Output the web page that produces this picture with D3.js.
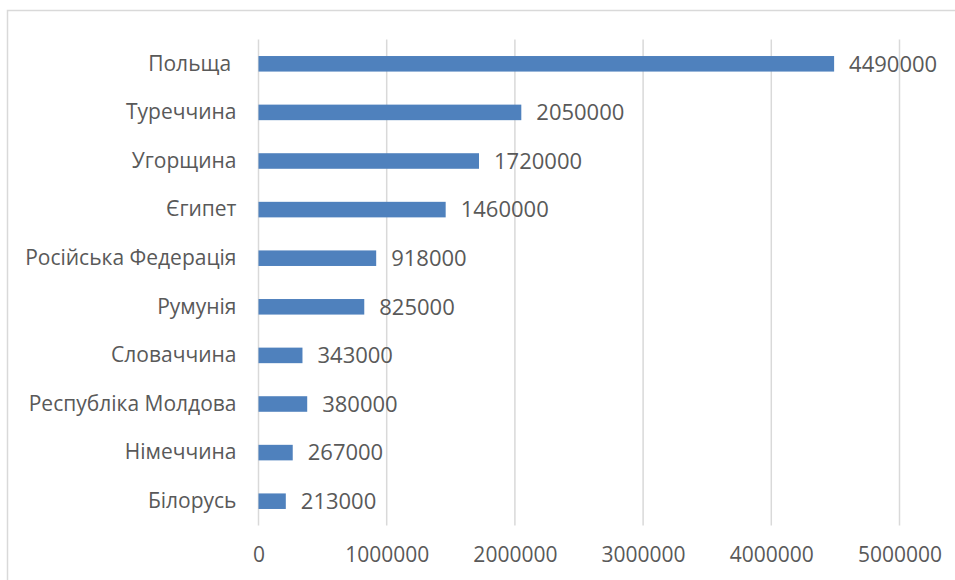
<!DOCTYPE html>
<html>
<head>
<meta charset="utf-8">
<script src="https://cdn.jsdelivr.net/npm/d3@7"></script>
<style>
  body { margin: 0; background: #fff; }
  text { font-family: "Open Sans", sans-serif; fill: #595959; white-space: pre; }
</style>
</head>
<body>
<div id="chart"></div>
<script>
// data
var countries = ["Польща ", "Туреччина", "Угорщина", "Єгипет", "Російська Федерація",
                 "Румунія", "Словаччина", "Республіка Молдова", "Німеччина", "Білорусь"];
var visitors = [4490000, 2050000, 1720000, 1460000, 918000, 825000, 343000, 380000, 267000, 213000];
var xTicks = [0, 1000000, 2000000, 3000000, 4000000, 5000000];

var W = 955, H = 580;
var margin = {top: 39.5, left: 258.5, right: 55.5, bottom: 54.5};
var width = W - margin.left - margin.right,
    height = H - margin.top - margin.bottom;

var svg = d3.select("#chart")
    .append("svg")
    .attr("width", W)
    .attr("height", H);

// chart area border
svg.append("rect")
    .attr("x", 7.5)
    .attr("y", 10.5)
    .attr("width", W)
    .attr("height", H)
    .attr("fill", "none")
    .attr("stroke", "#d9d9d9")
    .attr("stroke-width", 1.5);

var g = svg.append("g")
    .attr("transform", "translate(" + margin.left + "," + margin.top + ")");

var x = d3.scaleLinear().domain([0, 5000000]).range([0, width]);
var y = d3.scaleBand().domain(countries).range([0, height])
    .paddingInner(0.68).paddingOuter(0.34);

// vertical gridlines
g.selectAll("line.grid")
    .data(xTicks)
    .enter().append("line")
    .attr("class", "grid")
    .attr("x1", d => x(d))
    .attr("x2", d => x(d))
    .attr("y1", 0)
    .attr("y2", height)
    .attr("stroke", "#d9d9d9")
    .attr("stroke-width", 1.5);

// x axis labels
var xAxis = g.append("g")
    .attr("transform", "translate(0," + height + ")")
    .call(d3.axisBottom(x).tickValues(xTicks).tickFormat(d3.format("d")).tickSize(0).tickPadding(22));
xAxis.select(".domain").remove();
xAxis.selectAll("text")
    .style("font-family", "'Open Sans', sans-serif")
    .style("font-size", "21px")
    .attr("fill", "#595959");

// category labels
var yAxis = g.append("g")
    .call(d3.axisLeft(y).tickSize(0).tickPadding(22));
yAxis.select(".domain").remove();
yAxis.selectAll("text")
    .style("font-family", "'Open Sans', sans-serif")
    .style("font-size", "21px")
    .style("white-space", "pre")
    .attr("fill", "#595959");

// bars
g.selectAll("rect.bar")
    .data(countries)
    .enter().append("rect")
    .attr("class", "bar")
    .attr("x", x(0))
    .attr("y", d => y(d))
    .attr("width", (d, i) => x(visitors[i]) - x(0))
    .attr("height", y.bandwidth())
    .attr("fill", "#4f81bd");

// value labels
g.selectAll("text.val")
    .data(countries)
    .enter().append("text")
    .attr("class", "val")
    .attr("x", (d, i) => x(visitors[i]) + 15)
    .attr("y", d => y(d) + y.bandwidth() / 2)
    .attr("dy", "0.35em")
    .style("font-size", "22px")
    .text((d, i) => visitors[i]);
</script>
</body>
</html>
